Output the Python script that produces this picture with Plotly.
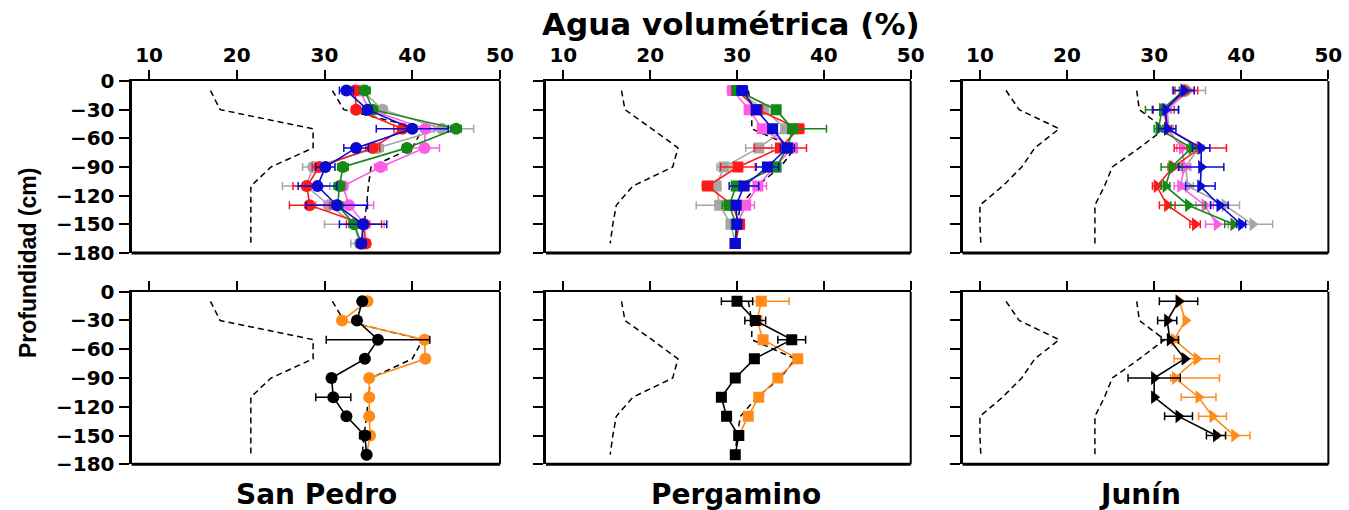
import plotly.graph_objects as go

# Profundidades de muestreo (cm)
profundidad = [-10, -30, -50, -70, -90, -110, -130, -150, -170]
profundidad_junin = profundidad[:8]

y_ticks = [0, -30, -60, -90, -120, -150, -180]
x_ticks = [10, 20, 30, 40, 50]

# Límites de agua útil (punto de marchitez y capacidad de campo)
sp_pmp = [17.0, 18.1, 28.7, 28.7, 23.9, 21.6, 21.6, 21.6, 21.6]
sp_cc = [30.9, 32.2, 41.2, 40.0, 35.3, 35.0, 34.8, 34.5, 34.3]
pe_pmp = [16.7, 17.1, 20.2, 23.2, 22.6, 18.0, 16.1, 15.7, 15.4]
pe_cc = [31.3, 31.7, 31.7, 36.7, 35.0, 32.3, 30.4, 30.0, 29.8]
ju_pmp = [13.0, 14.5, 19.1, 16.3, 14.8, 12.6, 10.0, 10.0, 10.1]
ju_cc = [28.0, 28.3, 31.2, 28.3, 25.2, 24.3, 23.2, 23.2, 23.2]

# San Pedro - fechas de muestreo (fila superior)
sp_rojo = [33.5, 33.6, 38.9, 35.5, 29.4, 28.0, 28.3, 34.5, 34.7]
sp_rojo_err = [0.5, 0.5, 1.0, 0.8, 0.8, 1.6, 2.3, 2.0, 0.5]
sp_rosa = [34.0, 35.1, 41.5, 41.4, 36.4, 32.1, 32.8, 34.6, 34.4]
sp_rosa_err = [0.6, 0.6, 1.0, 1.7, 0.7, 0.5, 2.8, 0.6, 0.5]
sp_gris = [34.3, 36.6, 43.4, 36.1, 28.7, 27.9, 30.5, 33.4, 34.0]
sp_gris_err = [0.6, 0.5, 3.6, 0.6, 1.2, 2.7, 1.5, 3.4, 1.0]
sp_verde = [34.6, 35.5, 45.0, 39.4, 32.1, 31.7, 31.5, 33.4, 34.2]
sp_verde_err = [0.6, 0.5, 0.6, 0.5, 0.6, 0.6, 0.6, 0.6, 0.5]
sp_azul = [32.5, 34.9, 40.0, 33.6, 30.1, 29.2, 31.4, 34.4, 34.2]
sp_azul_err = [0.8, 0.5, 4.1, 1.4, 1.1, 2.2, 3.5, 2.7, 0.5]

# Pergamino - fechas de muestreo (fila superior)
pe_rojo = [30.0, 32.4, 37.1, 35.0, 30.1, 26.6, 29.5, 30.3, 29.8]
pe_rojo_err = [0.5, 0.4, 0.6, 3.0, 2.0, 0.6, 0.5, 0.4, 0.3]
pe_rosa = [29.5, 31.4, 32.9, 36.4, 34.3, 32.4, 31.0, 30.0, 29.8]
pe_rosa_err = [0.6, 0.5, 0.5, 0.5, 0.5, 1.0, 1.0, 0.4, 0.3]
pe_gris = [30.0, 33.1, 35.6, 32.5, 28.5, 27.6, 28.0, 29.3, 29.8]
pe_gris_err = [0.3, 0.4, 0.4, 1.5, 0.8, 0.5, 2.7, 0.4, 0.3]
pe_verde = [30.0, 34.5, 36.4, 35.8, 34.5, 29.9, 29.1, 29.9, 29.8]
pe_verde_err = [0.4, 0.5, 3.9, 0.5, 0.4, 0.5, 0.8, 0.4, 0.3]
pe_verde_errm = [0.4, 0.5, 0.5, 0.5, 0.4, 0.5, 0.8, 0.4, 0.3]
pe_azul = [30.6, 32.2, 34.1, 35.8, 33.5, 30.8, 29.9, 30.0, 29.8]
pe_azul_err = [0.6, 0.4, 0.5, 0.8, 1.3, 1.7, 0.5, 0.4, 0.3]

# Junín - fechas de muestreo (fila superior)
ju_rojo = [33.7, 31.1, 31.5, 35.3, 32.2, 30.3, 31.5, 34.7]
ju_rojo_err = [1.3, 1.2, 0.5, 3.0, 0.6, 0.5, 0.9, 0.6]
ju_rosa = [33.8, 31.4, 31.5, 33.2, 33.5, 33.0, 35.8, 37.2]
ju_rosa_err = [0.8, 0.5, 0.5, 0.6, 0.6, 0.7, 1.0, 1.3]
ju_gris = [34.0, 31.5, 31.7, 35.1, 33.6, 33.9, 38.1, 41.3]
ju_gris_err = [1.9, 0.5, 0.5, 0.6, 0.6, 0.6, 1.7, 2.3]
ju_verde = [33.4, 30.9, 30.5, 34.3, 32.0, 31.3, 33.9, 39.1]
ju_verde_err = [0.5, 1.9, 0.5, 0.5, 1.2, 0.5, 2.0, 1.0]
ju_azul = [33.4, 31.3, 31.5, 35.4, 35.4, 35.3, 37.5, 40.0]
ju_azul_err = [1.2, 1.5, 1.0, 1.0, 2.6, 1.7, 1.0, 0.5]

# Fila inferior: dos tratamientos por sitio
sp_negro = [34.3, 33.7, 36.1, 34.6, 30.8, 31.0, 32.5, 34.6, 34.8]
sp_negro_err = [0.0, 0.0, 5.9, 0.0, 0.0, 2.0, 0.0, 0.6, 0.0]
sp_naranja = [34.9, 32.0, 41.4, 41.5, 35.1, 35.1, 35.1, 35.2, 34.8]
sp_naranja_err = [0.0, 0.0, 0.4, 0.0, 0.0, 0.0, 0.0, 0.3, 0.0]

pe_negro = [30.0, 32.1, 36.3, 32.0, 29.8, 28.2, 28.8, 30.2, 29.8]
pe_negro_err = [1.8, 1.2, 1.6, 0.0, 0.0, 0.0, 0.0, 0.0, 0.0]
pe_naranja = [32.8, 32.3, 33.0, 37.0, 34.7, 32.5, 31.3, 30.2]
pe_naranja_err = [3.2, 0.0, 0.0, 0.0, 0.0, 0.0, 0.0, 0.0]

ju_negro = [32.8, 31.5, 31.8, 33.5, 30.0, 30.0, 32.8, 37.1]
ju_negro_err = [2.2, 1.1, 1.0, 0.0, 3.0, 0.0, 1.6, 1.1]
ju_naranja = [32.9, 33.6, 32.3, 34.9, 32.4, 35.1, 36.7, 39.2]
ju_naranja_err = [0.0, 0.0, 0.4, 2.6, 5.1, 2.0, 1.6, 1.8]
ju_naranja_errm = [0.0, 0.0, 0.4, 2.6, 0.5, 2.0, 1.6, 1.8]

sitios = ["San Pedro", "Pergamino", "Junín"]

ROJO = "#ff1a1a"
ROSA = "#ff5ce6"
GRIS = "#a6a6a6"
VERDE = "#138a13"
AZUL = "#0a0ad2"
NEGRO = "#000000"
NARANJA = "#ff8c1a"

FONT = "DejaVu Sans"

fig = go.Figure()


def serie(x, y, color, simbolo, eje, err, errm=None, size=12):
    fig.add_trace(go.Scatter(
        x=x, y=y, mode="lines+markers",
        line=dict(color=color, width=1.6),
        marker=dict(symbol=simbolo, size=size, color=color, line=dict(width=0)),
        error_x=dict(type="data", array=err,
                     arrayminus=errm if errm is not None else err,
                     symmetric=errm is None,
                     color=color, thickness=1.5, width=4),
        xaxis="x" + eje, yaxis="y" + eje, showlegend=False,
        hoverinfo="skip",
    ))


def limite(x, eje):
    fig.add_trace(go.Scatter(
        x=x, y=profundidad, mode="lines",
        line=dict(color="black", width=1.5, dash="6px,4px"),
        xaxis="x" + eje, yaxis="y" + eje, showlegend=False, hoverinfo="skip",
    ))


# Límites (debajo de los datos)
for eje_sup, eje_inf, pmp, cc in [("", "4", sp_pmp, sp_cc),
                                  ("2", "5", pe_pmp, pe_cc),
                                  ("3", "6", ju_pmp, ju_cc)]:
    for e in (eje_sup, eje_inf):
        limite(pmp, e)
        limite(cc, e)

# Fila superior
serie(sp_gris, profundidad, GRIS, "circle", "", sp_gris_err)
serie(sp_rosa, profundidad, ROSA, "circle", "", sp_rosa_err)
serie(sp_rojo, profundidad, ROJO, "circle", "", sp_rojo_err)
serie(sp_verde, profundidad, VERDE, "circle", "", sp_verde_err)
serie(sp_azul, profundidad, AZUL, "circle", "", sp_azul_err)

serie(pe_gris, profundidad, GRIS, "square", "2", pe_gris_err, size=11)
serie(pe_rosa, profundidad, ROSA, "square", "2", pe_rosa_err, size=11)
serie(pe_rojo, profundidad, ROJO, "square", "2", pe_rojo_err, size=11)
serie(pe_verde, profundidad, VERDE, "square", "2", pe_verde_err, pe_verde_errm, size=11)
serie(pe_azul, profundidad, AZUL, "square", "2", pe_azul_err, size=11)

serie(ju_gris, profundidad_junin, GRIS, "triangle-right", "3", ju_gris_err)
serie(ju_rosa, profundidad_junin, ROSA, "triangle-right", "3", ju_rosa_err)
serie(ju_rojo, profundidad_junin, ROJO, "triangle-right", "3", ju_rojo_err)
serie(ju_verde, profundidad_junin, VERDE, "triangle-right", "3", ju_verde_err)
serie(ju_azul, profundidad_junin, AZUL, "triangle-right", "3", ju_azul_err)

# Fila inferior
serie(sp_naranja, profundidad, NARANJA, "circle", "4", sp_naranja_err)
serie(sp_negro, profundidad, NEGRO, "circle", "4", sp_negro_err)
serie(pe_naranja, profundidad[:8], NARANJA, "square", "5", pe_naranja_err, size=11)
serie(pe_negro, profundidad, NEGRO, "square", "5", pe_negro_err, size=11)
serie(ju_naranja, profundidad_junin, NARANJA, "triangle-right", "6", ju_naranja_err, ju_naranja_errm)
serie(ju_negro, profundidad_junin, NEGRO, "triangle-right", "6", ju_negro_err)

# Geometría de los paneles
x_dom = [[0.0975, 0.3706], [0.4047, 0.6751], [0.7135, 0.9847]]
y_dom = [[0.5039, 0.8412], [0.0896, 0.4280]]

tick_font = dict(family=FONT, size=20, color="black", weight="bold")
layout = {}
shapes = []
for fila in range(2):
    for col in range(3):
        n = fila * 3 + col + 1
        sx = "" if n == 1 else str(n)
        layout["xaxis" + sx] = dict(
            domain=x_dom[col], range=[8, 50], side="top",
            anchor="y" + sx, tickvals=x_ticks,
            showticklabels=(fila == 0), tickfont=tick_font,
            ticks="outside", ticklen=9, tickwidth=2, tickcolor="black",
            showline=True, linewidth=2, linecolor="black",
            showgrid=False, zeroline=False, fixedrange=True, automargin=False,
        )
        layout["yaxis" + sx] = dict(
            domain=y_dom[fila], range=[-180, 0],
            anchor="x" + sx, tickvals=y_ticks,
            showticklabels=(col == 0), tickfont=tick_font,
            ticks="outside", ticklen=10, tickwidth=2, tickcolor="black",
            showline=True, linewidth=3, linecolor="black",
            showgrid=False, zeroline=False, fixedrange=True, automargin=False,
        )
        # bordes inferior y derecho del recuadro
        shapes.append(dict(type="line", xref="x" + sx + " domain", yref="y" + sx + " domain",
                           x0=0, x1=1, y0=0, y1=0, line=dict(color="black", width=3)))
        shapes.append(dict(type="line", xref="x" + sx + " domain", yref="y" + sx + " domain",
                           x0=1, x1=1, y0=0, y1=1, line=dict(color="black", width=2)))

H = 510.0
anotaciones = [
    dict(text="Agua volumétrica (%)", x=731 / 1349, y=1 - 24 / H,
         font=dict(family=FONT, size=31, color="black", weight="bold")),
    dict(text="Profundidad (cm)", x=28 / 1349, y=1 - 263 / H, textangle=-90,
         font=dict(family="Liberation Sans", size=23, color="black", weight="bold")),
]
for nombre, cx in zip(sitios, [316, 736, 1140]):
    anotaciones.append(dict(text=nombre, x=cx / 1349, y=1 - 494 / H,
                            font=dict(family=FONT, size=28, color="black", weight="bold")))
for a in anotaciones:
    a.update(xref="paper", yref="paper", showarrow=False,
             xanchor="center", yanchor="middle")

fig.update_layout(
    width=1349, height=510, autosize=False,
    margin=dict(l=0, r=0, t=0, b=0, pad=0, autoexpand=False),
    paper_bgcolor="white", plot_bgcolor="white",
    annotations=anotaciones, shapes=shapes,
    **layout,
)

fig.write_html("out.html", config={"displayModeBar": False})
